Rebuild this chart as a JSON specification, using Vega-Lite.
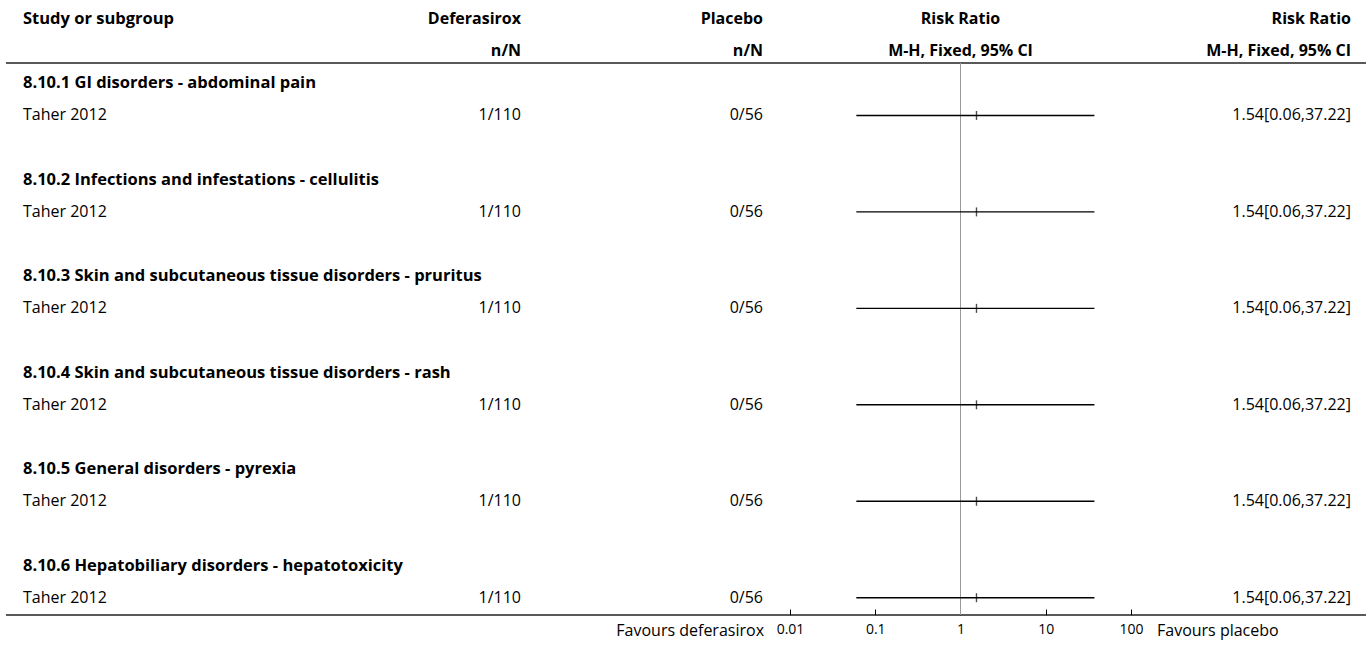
{
  "$schema": "https://vega.github.io/schema/vega-lite/v6.json",
  "padding": {"left": 5, "top": 0, "right": 0, "bottom": 0},
  "autosize": {"type": "pad"},
  "bounds": "flush",
  "spacing": 0,
  "config": {
    "view": {"stroke": null},
    "font": "Open Sans",
    "text": {"fontSize": 16, "color": "#000", "baseline": "middle"},
    "axis": {"labelFont": "Open Sans", "labelFontSize": 14}
  },
  "datasets": {
    "rows": [
      {"row": 0, "kind": "head", "c1": "Study or subgroup", "c2": "Deferasirox", "c3": "Placebo", "c4": "Risk Ratio", "c5": "Risk Ratio"},
      {"row": 1, "kind": "head", "c1": "", "c2": "n/N", "c3": "n/N", "c4": "M-H, Fixed, 95% CI", "c5": "M-H, Fixed, 95% CI"},
      {"row": 2, "kind": "group", "c1": "8.10.1 GI disorders - abdominal pain"},
      {"row": 3, "kind": "study", "c1": "Taher 2012", "c2": "1/110", "c3": "0/56", "rr": 1.54, "lo": 0.06, "hi": 37.22, "c5": "1.54[0.06,37.22]"},
      {"row": 5, "kind": "group", "c1": "8.10.2 Infections and infestations - cellulitis"},
      {"row": 6, "kind": "study", "c1": "Taher 2012", "c2": "1/110", "c3": "0/56", "rr": 1.54, "lo": 0.06, "hi": 37.22, "c5": "1.54[0.06,37.22]"},
      {"row": 8, "kind": "group", "c1": "8.10.3 Skin and subcutaneous tissue disorders - pruritus"},
      {"row": 9, "kind": "study", "c1": "Taher 2012", "c2": "1/110", "c3": "0/56", "rr": 1.54, "lo": 0.06, "hi": 37.22, "c5": "1.54[0.06,37.22]"},
      {"row": 11, "kind": "group", "c1": "8.10.4 Skin and subcutaneous tissue disorders - rash"},
      {"row": 12, "kind": "study", "c1": "Taher 2012", "c2": "1/110", "c3": "0/56", "rr": 1.54, "lo": 0.06, "hi": 37.22, "c5": "1.54[0.06,37.22]"},
      {"row": 14, "kind": "group", "c1": "8.10.5 General disorders - pyrexia"},
      {"row": 15, "kind": "study", "c1": "Taher 2012", "c2": "1/110", "c3": "0/56", "rr": 1.54, "lo": 0.06, "hi": 37.22, "c5": "1.54[0.06,37.22]"},
      {"row": 17, "kind": "group", "c1": "8.10.6 Hepatobiliary disorders - hepatotoxicity"},
      {"row": 18, "kind": "study", "c1": "Taher 2012", "c2": "1/110", "c3": "0/56", "rr": 1.54, "lo": 0.06, "hi": 37.22, "c5": "1.54[0.06,37.22]"}
    ],
    "lines": [{"row": 1.369}, {"row": 18.538}],
    "footer": [{"row": 19.04, "left": "Favours deferasirox", "right": "Favours placebo"}]
  },
  "hconcat": [
    {
      "width": 288, "height": 615,
      "layer": [
        {"data": {"name": "lines"}, "mark": {"type": "rule", "color": "#222", "strokeWidth": 1.5},
         "encoding": {"y": {"field": "row", "type": "quantitative", "scale": {"domain": [-0.591, 18.538], "reverse": true, "nice": false, "zero": false}, "axis": null}}},
        {"data": {"name": "rows"}, "transform": [{"filter": "datum.kind != 'study'"}],
         "mark": {"type": "text", "align": "left", "dx": 17, "fontWeight": "bold", "fontSize": 16.5},
         "encoding": {"x": {"value": 0}, "y": {"field": "row", "type": "quantitative"}, "text": {"field": "c1"}}},
        {"data": {"name": "rows"}, "transform": [{"filter": "datum.kind == 'study'"}],
         "mark": {"type": "text", "align": "left", "dx": 17},
         "encoding": {"x": {"value": 0}, "y": {"field": "row", "type": "quantitative"}, "text": {"field": "c1"}}}
      ]
    },
    {
      "width": 242, "height": 615,
      "layer": [
        {"data": {"name": "lines"}, "mark": {"type": "rule", "color": "#222", "strokeWidth": 1.5},
         "encoding": {"y": {"field": "row", "type": "quantitative", "scale": {"domain": [-0.591, 18.538], "reverse": true, "nice": false, "zero": false}, "axis": null}}},
        {"data": {"name": "rows"}, "transform": [{"filter": "datum.kind == 'head'"}],
         "mark": {"type": "text", "align": "right", "dx": -15, "fontWeight": "bold"},
         "encoding": {"x": {"value": "width"}, "y": {"field": "row", "type": "quantitative"}, "text": {"field": "c2"}}},
        {"data": {"name": "rows"}, "transform": [{"filter": "datum.kind == 'study'"}],
         "mark": {"type": "text", "align": "right", "dx": -15},
         "encoding": {"x": {"value": "width"}, "y": {"field": "row", "type": "quantitative"}, "text": {"field": "c2"}}}
      ]
    },
    {
      "width": 242, "height": 615,
      "layer": [
        {"data": {"name": "lines"}, "mark": {"type": "rule", "color": "#222", "strokeWidth": 1.5},
         "encoding": {"y": {"field": "row", "type": "quantitative", "scale": {"domain": [-0.591, 18.538], "reverse": true, "nice": false, "zero": false}, "axis": null}}},
        {"data": {"name": "rows"}, "transform": [{"filter": "datum.kind == 'head'"}],
         "mark": {"type": "text", "align": "right", "dx": -15, "fontWeight": "bold"},
         "encoding": {"x": {"value": "width"}, "y": {"field": "row", "type": "quantitative"}, "text": {"field": "c3"}}},
        {"data": {"name": "rows"}, "transform": [{"filter": "datum.kind == 'study'"}],
         "mark": {"type": "text", "align": "right", "dx": -15},
         "encoding": {"x": {"value": "width"}, "y": {"field": "row", "type": "quantitative"}, "text": {"field": "c3"}}},
        {"data": {"name": "footer"},
         "mark": {"type": "text", "align": "right", "dx": -14},
         "encoding": {"x": {"value": "width"}, "y": {"field": "row", "type": "quantitative"}, "text": {"field": "left"}}}
      ]
    },
    {
      "width": 363, "height": 615,
      "layer": [
        {"data": {"name": "lines"}, "mark": {"type": "rule", "color": "#222", "strokeWidth": 1.5},
         "encoding": {"y": {"field": "row", "type": "quantitative", "scale": {"domain": [-0.591, 18.538], "reverse": true, "nice": false, "zero": false}, "axis": null}}},
        {"data": {"name": "rows"}, "transform": [{"filter": "datum.kind == 'head'"}],
         "mark": {"type": "text", "align": "center", "fontWeight": "bold"},
         "encoding": {"x": {"datum": 1, "type": "quantitative"}, "y": {"field": "row", "type": "quantitative"}, "text": {"field": "c4"}}},
        {"data": {"name": "lines"}, "transform": [{"filter": "datum.row < 2"}],
         "mark": {"type": "rule", "color": "#9a9a9a", "strokeWidth": 1},
         "encoding": {"x": {"datum": 1, "type": "quantitative"}, "y": {"field": "row", "type": "quantitative"}, "y2": {"datum": 18.538}}},
        {"data": {"name": "rows"}, "transform": [{"filter": "datum.kind == 'study'"}],
         "mark": {"type": "rule", "color": "#000", "strokeWidth": 1.4},
         "encoding": {
           "x": {"field": "lo", "type": "quantitative",
                 "scale": {"type": "log", "domain": [0.01, 100], "range": [12, 353], "nice": false},
                 "axis": {"values": [0.01, 0.1, 1, 10, 100], "format": "~g", "domain": false, "grid": false, "tickSize": -6, "tickColor": "#000", "labelPadding": 13, "labelFontSize": 14, "labelColor": "#000", "labelFlush": false, "title": null}},
           "x2": {"field": "hi"},
           "y": {"field": "row", "type": "quantitative"}}},
        {"data": {"name": "rows"}, "transform": [{"filter": "datum.kind == 'study'"}],
         "mark": {"type": "tick", "orient": "vertical", "color": "#000", "size": 9, "thickness": 1.4},
         "encoding": {"x": {"field": "rr", "type": "quantitative"}, "y": {"field": "row", "type": "quantitative"}}}
      ]
    },
    {
      "width": 225, "height": 615,
      "layer": [
        {"data": {"name": "lines"}, "mark": {"type": "rule", "color": "#222", "strokeWidth": 1.5},
         "encoding": {"y": {"field": "row", "type": "quantitative", "scale": {"domain": [-0.591, 18.538], "reverse": true, "nice": false, "zero": false}, "axis": null}}},
        {"data": {"name": "rows"}, "transform": [{"filter": "datum.kind == 'head'"}],
         "mark": {"type": "text", "align": "right", "dx": -15, "fontWeight": "bold"},
         "encoding": {"x": {"value": "width"}, "y": {"field": "row", "type": "quantitative"}, "text": {"field": "c5"}}},
        {"data": {"name": "rows"}, "transform": [{"filter": "datum.kind == 'study'"}],
         "mark": {"type": "text", "align": "right", "dx": -15},
         "encoding": {"x": {"value": "width"}, "y": {"field": "row", "type": "quantitative"}, "text": {"field": "c5"}}},
        {"data": {"name": "footer"},
         "mark": {"type": "text", "align": "left", "dx": 16},
         "encoding": {"x": {"value": 0}, "y": {"field": "row", "type": "quantitative"}, "text": {"field": "right"}}}
      ]
    }
  ]
}
